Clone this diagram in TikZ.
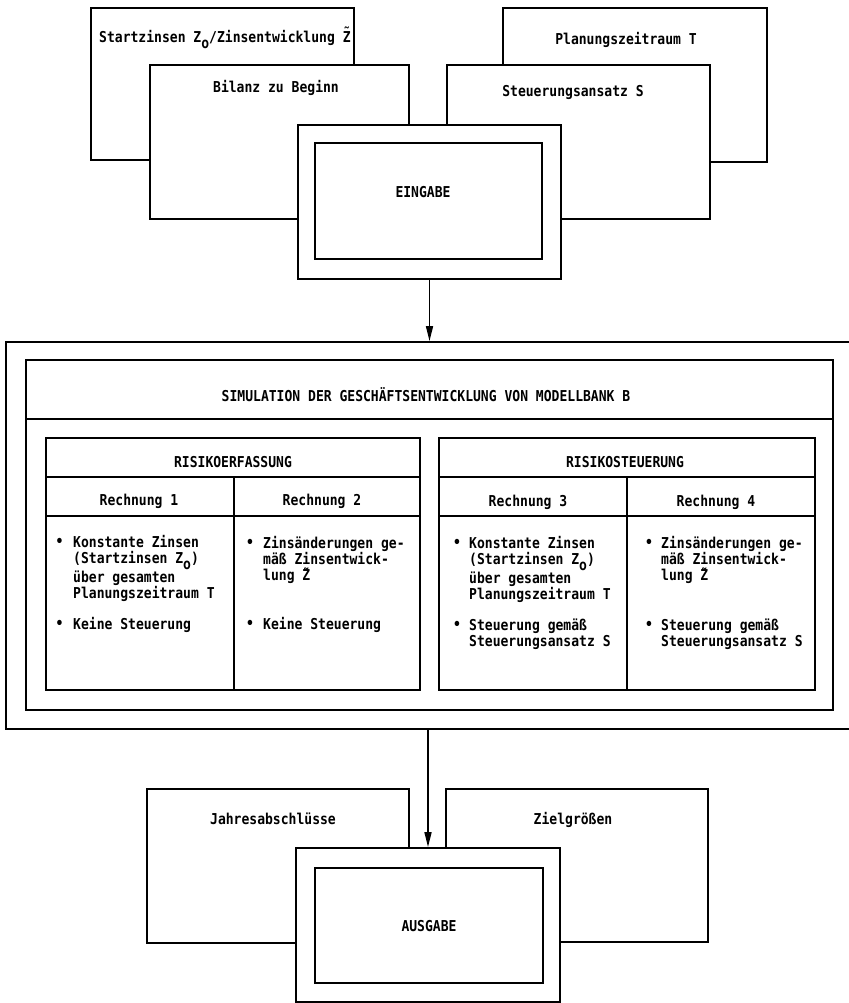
\documentclass[tikz,border=0pt]{standalone}
\usepackage{fontspec}
\newfontfamily\tw[FakeStretch=0.87]{DejaVu Sans Mono}
\usetikzlibrary{arrows.meta}
\newcommand\Zo{Z\raisebox{-5.5pt}{o}}
\newcommand\Zt[1][4pt]{\makebox[0pt][l]{\raisebox{#1}{\char"02DC}}Z}
\begin{document}
\begin{tikzpicture}[x=1pt,y=-1pt,
  box/.style={draw, line width=1.8pt, fill=white, inner sep=0pt},
  lbl/.style={anchor=base, inner sep=0pt, font=\tw\bfseries\fontsize{15}{16}\selectfont},
  itm/.style={anchor=north west, inner sep=0pt, align=left, font=\tw\bfseries\fontsize{15}{16}\selectfont},
  bul/.style={anchor=base, inner sep=0pt, font=\tw\bfseries\fontsize{15}{16}\selectfont},
  sep/.style={line width=1.8pt},
  arr/.style={line width=1.6pt, -{Triangle[length=15pt,width=7pt]}}]
\useasboundingbox (0,0) rectangle (848,1003);
% top input boxes
\node[box, minimum width=263pt, minimum height=152pt] (startz) at (222.5,84) {};
\node[box, minimum width=264pt, minimum height=154pt] (planz) at (635,85) {};
\node[box, minimum width=259pt, minimum height=154pt] (bilanz) at (279.5,142) {};
\node[box, minimum width=263pt, minimum height=154pt] (steuer) at (578.5,142) {};
\node[box, minimum width=263pt, minimum height=154pt] (einO) at (429.5,202) {};
\node[box, minimum width=227pt, minimum height=116pt] (einI) at (428.5,201) {};
\node[lbl, anchor=base west] (tstartz) at (99,43) {Startzinsen \Zo/Zinsentwicklung \Zt};
\node[lbl] (tplanz) at (626,45) {Planungszeitraum T};
\node[lbl] (tbilanz) at (276,93) {Bilanz zu Beginn};
\node[lbl] (tsteuer) at (573,97) {Steuerungsansatz S};
\node[lbl] (tein) at (423,197) {EINGABE};
% simulation
\node[box, minimum width=854pt, minimum height=387pt] (simO) at (433,535.5) {};
\node[box, minimum width=807pt, minimum height=350pt] (simI) at (429.5,535) {};
\draw[sep] (simI.west |- 0,419) -- (simI.east |- 0,419);
\node[lbl] (tsim) at (426,401) {SIMULATION DER GESCHÄFTSENTWICKLUNG VON MODELLBANK B};
\node[box, minimum width=374pt, minimum height=252pt] (riskE) at (233,564) {};
\node[box, minimum width=376pt, minimum height=252pt] (riskS) at (627,564) {};
\draw[sep] (riskE.west |- 0,477) -- (riskE.east |- 0,477);
\draw[sep] (riskE.west |- 0,516) -- (riskE.east |- 0,516);
\draw[sep] (234,477) -- (riskE.south -| 234,0);
\draw[sep] (riskS.west |- 0,477) -- (riskS.east |- 0,477);
\draw[sep] (riskS.west |- 0,516) -- (riskS.east |- 0,516);
\draw[sep] (627,477) -- (riskS.south -| 627,0);
\node[lbl] (tre) at (233,467) {RISIKOERFASSUNG};
\node[lbl] (trs) at (625,467) {RISIKOSTEUERUNG};
\node[lbl] (r1) at (139,505) {Rechnung 1};
\node[lbl] (r2) at (322,505) {Rechnung 2};
\node[lbl] (r3) at (528,506) {Rechnung 3};
\node[lbl] (r4) at (716,506) {Rechnung 4};
% column 1
\node[bul] (b11) at (59.5,546.5) {•};
\node[itm] (i11) at (73,535.5) {Konstante Zinsen\\(Startzinsen \Zo)\\über gesamten\\Planungszeitraum T};
\node[bul] (b12) at (59.5,628) {•};
\node[itm] (i12) at (73,617.5) {Keine Steuerung};
% column 2
\node[bul] (b21) at (250,547) {•};
\node[itm] (i21) at (263,536.5) {Zinsänderungen ge-\\mäß Zinsentwick-\\lung \Zt[1pt]};
\node[bul] (b22) at (250,628) {•};
\node[itm] (i22) at (263,617.5) {Keine Steuerung};
% column 3
\node[bul] (b31) at (457,547) {•};
\node[itm] (i31) at (469,536.5) {Konstante Zinsen\\(Startzinsen \Zo)\\über gesamten\\Planungszeitraum T};
\node[bul] (b32) at (457,629) {•};
\node[itm] (i32) at (469,618.5) {Steuerung gemäß\\Steuerungsansatz S};
% column 4
\node[bul] (b41) at (649,547) {•};
\node[itm] (i41) at (661,536.5) {Zinsänderungen ge-\\mäß Zinsentwick-\\lung \Zt[1pt]};
\node[bul] (b42) at (649,629) {•};
\node[itm] (i42) at (661,618.5) {Steuerung gemäß\\Steuerungsansatz S};
% bottom output boxes
\node[box, minimum width=262pt, minimum height=154pt] (jahr) at (278,866) {};
\node[box, minimum width=262pt, minimum height=153pt] (ziel) at (577,865.5) {};
\node[box, minimum width=264pt, minimum height=154pt] (ausO) at (428,925) {};
\node[box, minimum width=228pt, minimum height=115pt] (ausI) at (429,925.5) {};
\node[lbl] (tjahr) at (273,824) {Jahresabschlüsse};
\node[lbl] (tziel) at (573,824) {Zielgrößen};
\node[lbl] (taus) at (429,931) {AUSGABE};
% connectors
\draw[arr] (einO.south) -- (einO.south |- simO.north);
\draw[arr] (simO.south -| ausO.north) -- (ausO.north);
\end{tikzpicture}
\end{document}
